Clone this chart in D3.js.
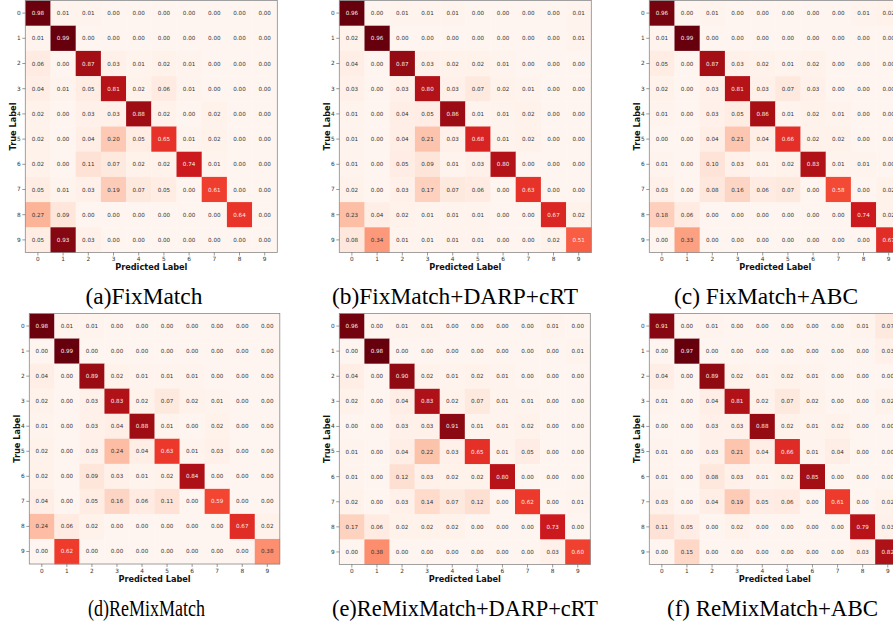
<!DOCTYPE html>
<html>
<head>
<meta charset="utf-8">
<script src="https://cdn.jsdelivr.net/npm/d3@7"></script>
<style>
  html, body { margin: 0; padding: 0; background: #fff; overflow: hidden; }
  svg { display: block; }
</style>
</head>
<body>
<svg id="chart" width="893" height="623"></svg>
<script>
// ---- data ----
const classLabels = ["0","1","2","3","4","5","6","7","8","9"];
const captions = ["(a)FixMatch", "(b)FixMatch+DARP+cRT", "(c) FixMatch+ABC",
                  "(d)ReMixMatch", "(e)ReMixMatch+DARP+cRT", "(f) ReMixMatch+ABC"];

const fixMatch = [
  [0.98,0.01,0.01,0.00,0.00,0.00,0.00,0.00,0.00,0.00],
  [0.01,0.99,0.00,0.00,0.00,0.00,0.00,0.00,0.00,0.00],
  [0.06,0.00,0.87,0.03,0.01,0.02,0.01,0.00,0.00,0.00],
  [0.04,0.01,0.05,0.81,0.02,0.06,0.01,0.00,0.00,0.00],
  [0.02,0.00,0.03,0.03,0.88,0.02,0.00,0.02,0.00,0.00],
  [0.02,0.00,0.04,0.20,0.05,0.65,0.01,0.02,0.00,0.00],
  [0.02,0.00,0.11,0.07,0.02,0.02,0.74,0.01,0.00,0.00],
  [0.05,0.01,0.03,0.19,0.07,0.05,0.00,0.61,0.00,0.00],
  [0.27,0.09,0.00,0.00,0.00,0.00,0.00,0.00,0.64,0.00],
  [0.05,0.93,0.03,0.00,0.00,0.00,0.00,0.00,0.00,0.00]
];
const fixMatchDarp = [
  [0.96,0.00,0.01,0.01,0.01,0.00,0.00,0.00,0.00,0.01],
  [0.02,0.96,0.00,0.00,0.00,0.00,0.00,0.00,0.00,0.01],
  [0.04,0.00,0.87,0.03,0.02,0.02,0.01,0.00,0.00,0.00],
  [0.03,0.00,0.03,0.80,0.03,0.07,0.02,0.01,0.00,0.00],
  [0.01,0.00,0.04,0.05,0.86,0.01,0.01,0.02,0.00,0.00],
  [0.01,0.00,0.04,0.21,0.03,0.68,0.01,0.02,0.00,0.00],
  [0.01,0.00,0.05,0.09,0.01,0.03,0.80,0.00,0.00,0.00],
  [0.02,0.00,0.03,0.17,0.07,0.06,0.00,0.63,0.00,0.00],
  [0.23,0.04,0.02,0.01,0.01,0.01,0.00,0.00,0.67,0.02],
  [0.08,0.34,0.01,0.01,0.01,0.01,0.00,0.00,0.02,0.51]
];
const fixMatchAbc = [
  [0.96,0.00,0.01,0.00,0.00,0.00,0.00,0.00,0.01,0.02],
  [0.01,0.99,0.00,0.00,0.00,0.00,0.00,0.00,0.00,0.00],
  [0.05,0.00,0.87,0.03,0.02,0.01,0.02,0.00,0.00,0.00],
  [0.02,0.00,0.03,0.81,0.03,0.07,0.03,0.00,0.00,0.00],
  [0.01,0.00,0.03,0.05,0.86,0.01,0.02,0.01,0.00,0.00],
  [0.00,0.00,0.04,0.21,0.04,0.66,0.02,0.02,0.00,0.00],
  [0.01,0.00,0.10,0.03,0.01,0.02,0.83,0.01,0.01,0.00],
  [0.03,0.00,0.08,0.16,0.06,0.07,0.00,0.58,0.00,0.02],
  [0.18,0.06,0.00,0.00,0.00,0.00,0.00,0.00,0.74,0.02],
  [0.00,0.33,0.00,0.00,0.00,0.00,0.00,0.00,0.00,0.67]
];
const reMixMatch = [
  [0.98,0.01,0.01,0.00,0.00,0.00,0.00,0.00,0.00,0.00],
  [0.00,0.99,0.00,0.00,0.00,0.00,0.00,0.00,0.00,0.00],
  [0.04,0.00,0.89,0.02,0.01,0.01,0.01,0.00,0.00,0.00],
  [0.02,0.00,0.03,0.83,0.02,0.07,0.02,0.01,0.00,0.00],
  [0.01,0.00,0.03,0.04,0.88,0.01,0.00,0.02,0.00,0.00],
  [0.02,0.00,0.03,0.24,0.04,0.63,0.01,0.03,0.00,0.00],
  [0.02,0.00,0.09,0.03,0.01,0.02,0.84,0.00,0.00,0.00],
  [0.04,0.00,0.05,0.16,0.06,0.11,0.00,0.59,0.00,0.00],
  [0.24,0.06,0.02,0.00,0.00,0.00,0.00,0.00,0.67,0.02],
  [0.00,0.62,0.00,0.00,0.00,0.00,0.00,0.00,0.00,0.38]
];
const reMixMatchDarp = [
  [0.96,0.00,0.01,0.01,0.00,0.00,0.00,0.00,0.01,0.00],
  [0.00,0.98,0.00,0.00,0.00,0.00,0.00,0.00,0.00,0.01],
  [0.04,0.00,0.90,0.02,0.01,0.02,0.01,0.00,0.00,0.00],
  [0.02,0.00,0.04,0.83,0.02,0.07,0.01,0.01,0.00,0.00],
  [0.00,0.00,0.03,0.03,0.91,0.01,0.01,0.02,0.00,0.00],
  [0.01,0.00,0.04,0.22,0.03,0.65,0.01,0.05,0.00,0.00],
  [0.01,0.00,0.12,0.03,0.02,0.02,0.80,0.00,0.00,0.00],
  [0.02,0.00,0.03,0.14,0.07,0.12,0.00,0.62,0.00,0.01],
  [0.17,0.06,0.02,0.02,0.02,0.00,0.00,0.00,0.73,0.00],
  [0.00,0.38,0.00,0.00,0.00,0.00,0.00,0.00,0.03,0.60]
];
const reMixMatchAbc = [
  [0.91,0.00,0.01,0.00,0.00,0.00,0.00,0.00,0.01,0.07],
  [0.00,0.97,0.00,0.00,0.00,0.00,0.00,0.00,0.00,0.03],
  [0.04,0.00,0.89,0.02,0.01,0.02,0.01,0.00,0.00,0.00],
  [0.01,0.00,0.04,0.81,0.02,0.07,0.02,0.00,0.00,0.02],
  [0.00,0.00,0.03,0.03,0.88,0.02,0.01,0.02,0.00,0.00],
  [0.01,0.00,0.03,0.21,0.04,0.66,0.01,0.04,0.00,0.00],
  [0.01,0.00,0.08,0.03,0.01,0.02,0.85,0.00,0.00,0.00],
  [0.03,0.00,0.04,0.19,0.05,0.06,0.00,0.61,0.00,0.02],
  [0.11,0.05,0.00,0.02,0.00,0.00,0.00,0.00,0.79,0.03],
  [0.00,0.15,0.00,0.00,0.00,0.00,0.00,0.00,0.03,0.82]
];

// ---- layout ----
const matrices = [fixMatch, fixMatchDarp, fixMatchAbc, reMixMatch, reMixMatchDarp, reMixMatchAbc];
const panelLeft = [25.3, 339.3, 649.3, 29.3, 339.3, 649.3];
const panelTop  = [0.5, 0.5, 0.5, 313.5, 313.5, 313.5];
const panelSize = [252, 252, 252, 250.5, 251, 251];
const captionX  = [144, 455, 766, 146.5, 465, 772.5];
const captionY  = [303.5, 303.5, 303.5, 616, 616, 616];
const captionW  = [null, null, null, 117, 266, 211];

const redsColors = ['#fff5f0','#fee0d2','#fcbba1','#fc9272','#fb6a4a','#ef3b2c','#cb181d','#a50f15','#67000d'];
const redsInterp = d3.piecewise(d3.interpolateRgb, redsColors);

const svg = d3.select("#chart");

matrices.forEach((m, p) => {
  const L = panelLeft[p], T = panelTop[p], S = panelSize[p];
  const x = d3.scaleBand().domain(classLabels).range([L, L + S]).padding(0);
  const y = d3.scaleBand().domain(classLabels).range([T, T + S]).padding(0);
  const flat = m.flat();
  const vmin = d3.min(flat), vmax = d3.max(flat);
  const color = d3.scaleSequential(redsInterp).domain([vmin, vmax]);
  const thresh = (vmin + vmax) / 2;

  const cells = [];
  m.forEach((row, i) => row.forEach((v, j) => cells.push({r: classLabels[i], c: classLabels[j], v})));

  const g = svg.append("g");
  g.selectAll("rect.cell").data(cells).join("rect")
    .attr("class", "cell")
    .attr("x", d => x(d.c)).attr("y", d => y(d.r))
    .attr("width", x.bandwidth() + 0.3).attr("height", y.bandwidth() + 0.3)
    .attr("fill", d => color(d.v));

  g.selectAll("text.val").data(cells).join("text")
    .attr("class", "val")
    .attr("x", d => x(d.c) + x.bandwidth() / 2)
    .attr("y", d => y(d.r) + y.bandwidth() / 2)
    .attr("text-anchor", "middle")
    .attr("dominant-baseline", "central")
    .attr("font-family", "DejaVu Sans")
    .attr("font-size", 5.6)
    .attr("fill", d => d.v > thresh ? "#f8eeee" : "#333")
    .text(d => d.v.toFixed(2));

  // frame
  g.append("rect")
    .attr("x", L).attr("y", T).attr("width", S).attr("height", S)
    .attr("fill", "none").attr("stroke", "#8a8a8a").attr("stroke-width", 0.8);

  // axes
  const ax = g.append("g").attr("transform", `translate(0,${T + S})`)
    .call(d3.axisBottom(x).tickSize(3).tickPadding(1.5));
  const ay = g.append("g").attr("transform", `translate(${L},0)`)
    .call(d3.axisLeft(y).tickSize(3).tickPadding(1.5));
  [ax, ay].forEach(a => {
    a.select(".domain").remove();
    a.selectAll(".tick line").attr("stroke", "#555").attr("stroke-width", 0.6);
    a.selectAll(".tick text").attr("font-family", "DejaVu Sans").attr("font-size", 5.8).attr("fill", "#333");
  });

  // axis titles
  g.append("text")
    .attr("x", L + S / 2).attr("y", T + S + 17.5)
    .attr("text-anchor", "middle")
    .attr("font-family", "DejaVu Sans").attr("font-weight", "bold")
    .attr("font-size", 8.2).attr("fill", "#111")
    .text("Predicted Label");
  g.append("text")
    .attr("transform", `translate(${L - 9.8},${T + S / 2}) rotate(-90)`)
    .attr("text-anchor", "middle")
    .attr("font-family", "DejaVu Sans").attr("font-weight", "bold")
    .attr("font-size", 8.2).attr("fill", "#111")
    .text("True Label");

  // caption
  const cap = svg.append("text")
    .attr("x", captionX[p]).attr("y", captionY[p])
    .attr("text-anchor", "middle")
    .attr("font-family", "Liberation Serif, Times New Roman, serif")
    .attr("font-size", 23.4).attr("fill", "#000")
    .text(captions[p]);
  if (captionW[p]) cap.attr("textLength", captionW[p]).attr("lengthAdjust", "spacingAndGlyphs");
});
</script>
</body>
</html>
